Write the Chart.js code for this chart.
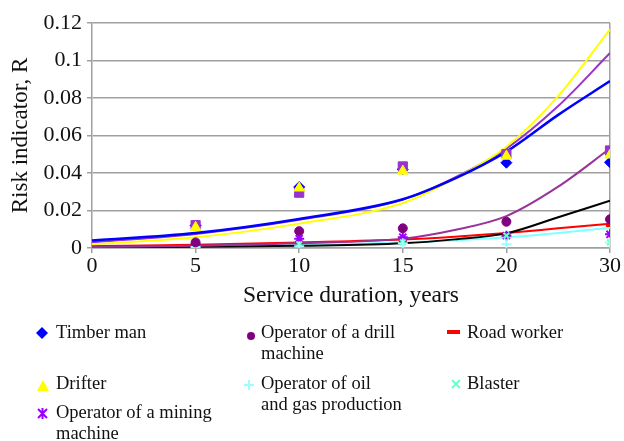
<!DOCTYPE html>
<html>
<head>
<meta charset="utf-8">
<script src="https://cdn.jsdelivr.net/npm/chart.js@4.4.0/dist/chart.umd.min.js"></script>
<style>
  html, body { margin: 0; padding: 0; background: #fff; }
  #wrap { position: relative; width: 624px; height: 441px; overflow: hidden; }
  #c { position: absolute; left: 0; top: 0; }
  .lg { position: absolute; font-family: "Liberation Serif", "Times New Roman", serif; font-size: 18.5px; line-height: 21px; color: #111; white-space: nowrap; }
  .mk { position: absolute; }
</style>
</head>
<body>
<div id="wrap">
  <canvas id="c" width="624" height="441"></canvas>
  <svg class="mk" style="left:36px;top:327px" width="12" height="12"><polygon points="6,0 12,6 6,12 0,6" fill="#0000ff"/></svg>
  <div class="lg" style="left:56px;top:322px">Timber man</div>
  <svg class="mk" style="left:246px;top:331px" width="10" height="10"><circle cx="5" cy="5" r="4" fill="#800080"/></svg>
  <div class="lg" style="left:261px;top:322px">Operator of a drill<br>machine</div>
  <svg class="mk" style="left:447px;top:330px" width="13" height="5"><rect x="0" y="0" width="13" height="4" fill="#ff0000"/></svg>
  <div class="lg" style="left:467px;top:322px">Road worker</div>
  <svg class="mk" style="left:37px;top:380px" width="12" height="11"><polygon points="6,0 12,11 0,11" fill="#ffff00"/></svg>
  <div class="lg" style="left:56px;top:373px">Drifter</div>
  <svg class="mk" style="left:243px;top:379px" width="12" height="12"><path d="M6 1V11M1 6H11" stroke="#99ffff" stroke-width="2"/></svg>
  <div class="lg" style="left:261px;top:373px">Operator of oil<br>and gas production</div>
  <svg class="mk" style="left:451px;top:379px" width="10" height="10"><path d="M1 1L9 9M9 1L1 9" stroke="#66ffcc" stroke-width="2"/></svg>
  <div class="lg" style="left:467px;top:373px">Blaster</div>
  <svg class="mk" style="left:37px;top:408px" width="11" height="11"><path d="M1 1L10 10M10 1L1 10M5.5 0V11" stroke="#9900ff" stroke-width="2"/></svg>
  <div class="lg" style="left:56px;top:402px">Operator of a mining<br>machine</div>
</div>
<script>
// Category labels of the x axis (Excel line-chart categories, equally spaced)
const categories = ['0', '5', '10', '15', '20', '30'];
// Category index of each observed point (5, 10, 15, 20, 30 years)
const pointIndex = [1, 2, 3, 4, 5];

// Observed risk indicator values
const timberMan      = [0.012, 0.0325, 0.042, 0.0455, 0.0457];
const unnamedSeries  = [0.0122, 0.0295, 0.0435, 0.050, 0.052];
const drifter        = [0.011, 0.032, 0.041, 0.049, 0.0496];
const drillOperator  = [0.003, 0.009, 0.0105, 0.014, 0.0153];
const miningOperator = [0.002, 0.005, 0.0058, 0.0066, 0.0073];
const roadWorker     = [0.002, 0.003, 0.004, 0.007, 0.012];
const oilGasOperator = [0.0005, 0.001, 0.0025, 0.002, 0.003];
const blaster        = [0.001, 0.002, 0.003, 0.0066, 0.003];

// Trend lines at these category positions
const trendIndex  = [0, 1, 2, 3, 3.5, 4, 4.5, 5];
const trendBlue   = [0.004, 0.008, 0.0155, 0.026, 0.037, 0.0514, 0.071, 0.089];
const trendYellow = [0.002, 0.0057, 0.013, 0.024, 0.037, 0.054, 0.081, 0.1166];
const trendViolet = [0.003, 0.0075, 0.015, 0.0258, 0.0375, 0.053, 0.0757, 0.104];
const trendPurple = [0.0005, 0.0012, 0.0025, 0.005, 0.0096, 0.017, 0.0327, 0.053];
const trendBlack  = [0.0003, 0.0006, 0.0012, 0.0025, 0.0046, 0.0078, 0.0164, 0.0252];
const trendRed    = [0.001, 0.0018, 0.003, 0.0045, 0.006, 0.008, 0.0105, 0.013];
const trendCyan   = [0.0004, 0.0008, 0.0015, 0.003, 0.004, 0.0057, 0.008, 0.0108];

const yTicks = [0, 0.02, 0.04, 0.06, 0.08, 0.1, 0.12];

const pts = (xs, ys) => ys.map((v, i) => ({ x: xs[i], y: v }));

function pointSet(label, values, style, color, radius, order, bw) {
  return {
    type: 'scatter', label, data: pts(pointIndex, values),
    pointStyle: style, pointRadius: radius, pointHoverRadius: radius,
    backgroundColor: color, borderColor: color, borderWidth: bw || 1, order
  };
}
function trendSet(label, values, color, width, order) {
  return {
    type: 'line', label, data: pts(trendIndex, values),
    borderColor: color, borderWidth: width, pointRadius: 0,
    cubicInterpolationMode: 'monotone', fill: false, order
  };
}

const serif = '"Liberation Serif", "Times New Roman", serif';
const gridGray = '#a0a0a0';

new Chart(document.getElementById('c'), {
  data: {
    datasets: [
      pointSet('Drifter', drifter, 'triangle', '#ffff00', 6, 1),
      pointSet('Series', unnamedSeries, 'rect', '#9933cc', 6.5, 2),
      pointSet('Timber man', timberMan, 'rectRot', '#0000ff', 5.5, 3),
      pointSet('Operator of a drill machine', drillOperator, 'circle', '#800080', 4.5, 4),
      pointSet('Operator of oil and gas production', oilGasOperator, 'cross', '#99ffff', 5, 5, 2),
      pointSet('Blaster', blaster, 'crossRot', '#66ffcc', 4, 6, 2),
      pointSet('Operator of a mining machine', miningOperator, 'star', '#9900ff', 5, 7, 2),
      pointSet('Road worker', roadWorker, 'line', '#ff0000', 4, 9, 3),
      trendSet('t-cyan', trendCyan, '#80ffff', 2, 20),
      trendSet('t-red', trendRed, '#ff0000', 2, 19),
      trendSet('t-black', trendBlack, '#000000', 2, 18),
      trendSet('t-purple', trendPurple, '#993399', 2, 17),
      trendSet('t-violet', trendViolet, '#9933cc', 2, 16),
      trendSet('t-yellow', trendYellow, '#ffff00', 2, 15),
      trendSet('t-blue', trendBlue, '#0000ff', 2.5, 14)
    ]
  },
  options: {
    responsive: false,
    animation: false,
    events: [],
    layout: { padding: { top: 23, right: 14, bottom: 131, left: 0 } },
    plugins: { legend: { display: false }, tooltip: { enabled: false } },
    scales: {
      x: {
        type: 'linear', min: 0, max: 5,
        afterFit: (s) => { s.height = 62; },
        afterBuildTicks: (s) => { s.ticks = categories.map((c, i) => ({ value: i })); },
        ticks: {
          callback: (v) => categories[v],
          font: { family: serif, size: 22 }, color: '#111', padding: 0, maxRotation: 0
        },
        grid: {
          drawOnChartArea: true, drawTicks: true, tickLength: 5,
          color: (ctx) => (ctx.tick && ctx.tick.value === 5 ? gridGray : 'rgba(0,0,0,0)'),
          tickColor: gridGray, lineWidth: 1.5
        },
        border: { display: true, color: gridGray, width: 1.5 },
        title: { display: true, text: 'Service duration, years', font: { family: serif, size: 23.5 }, color: '#111', padding: { top: 2, bottom: 0 } }
      },
      y: {
        type: 'linear', min: 0, max: 0.12,
        afterFit: (s) => { s.width = 92; },
        afterBuildTicks: (s) => { s.ticks = yTicks.map((v) => ({ value: v })); },
        ticks: {
          callback: (v) => String(+v.toFixed(2)),
          font: { family: serif, size: 22 }, color: '#111', padding: 5
        },
        grid: { color: gridGray, lineWidth: 1.5, tickLength: 5, tickColor: gridGray },
        border: { display: true, color: gridGray, width: 1.5 },
        title: { display: true, text: 'Risk indicator, R', font: { family: serif, size: 23 }, color: '#111', padding: { top: 7, bottom: 2 } }
      }
    }
  }
});
</script>
</body>
</html>
